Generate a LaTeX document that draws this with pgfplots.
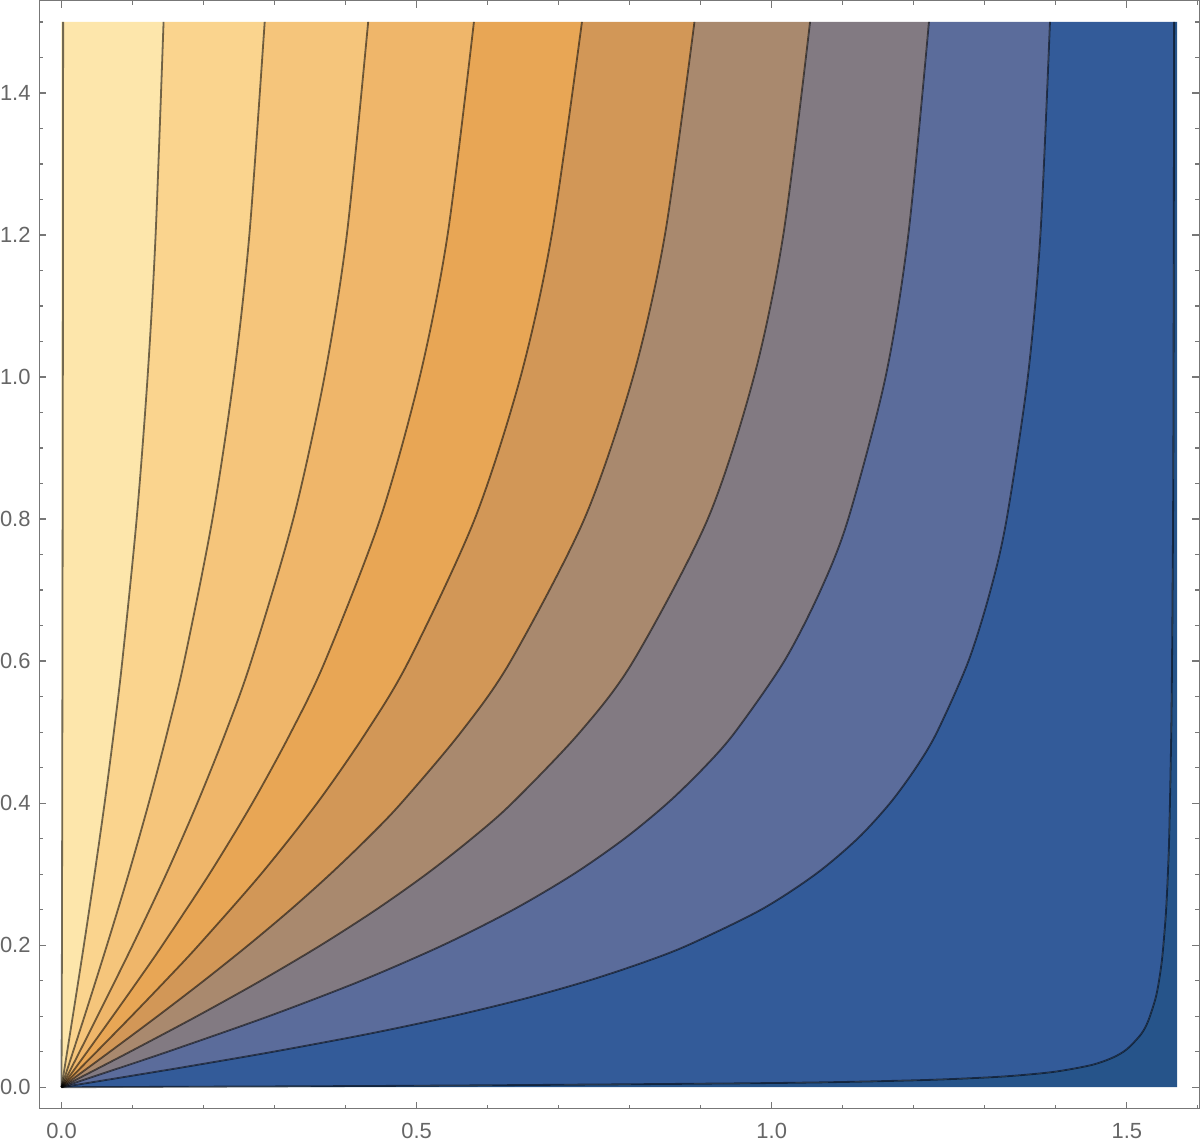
\documentclass[border=0pt]{standalone}
\usepackage{pgfplots}
\pgfplotsset{compat=1.18}
\usepgfplotslibrary{fillbetween}
\usepackage{fontspec}
\setmainfont{Liberation Sans}
\definecolor{c0}{HTML}{FEEDB9}
\definecolor{c1}{HTML}{FDE6AB}
\definecolor{c2}{HTML}{FAD48E}
\definecolor{c3}{HTML}{F5C57B}
\definecolor{c4}{HTML}{EFB66A}
\definecolor{c5}{HTML}{E8A655}
\definecolor{c6}{HTML}{D29757}
\definecolor{c7}{HTML}{A9896E}
\definecolor{c8}{HTML}{827A82}
\definecolor{c9}{HTML}{5B6C9B}
\definecolor{c10}{HTML}{335B99}
\definecolor{c11}{HTML}{26548A}
\definecolor{framegray}{HTML}{777777}
\definecolor{labelgray}{HTML}{666666}
\begin{document}
\begin{tikzpicture}
\begin{axis}[
  scale only axis, width=386.2pt, height=368.8pt,
  xmin=-0.0314, xmax=1.6022, ymin=-0.03, ymax=1.53,
  xtick={0,0.5,1,1.5},
  minor xtick={0.1,0.2,0.3,0.4,0.6,0.7,0.8,0.9,1.1,1.2,1.3,1.4,1.6},
  ytick={0,0.2,0.4,0.6,0.8,1.0,1.2,1.4},
  minor ytick={0.05,0.1,0.15,0.25,0.3,0.35,0.45,0.5,0.55,0.65,0.7,0.75,0.85,0.9,0.95,1.05,1.1,1.15,1.25,1.3,1.35,1.45,1.5},
  xtick pos=both, ytick pos=both, tick align=inside,
  major tick length=2.33pt, minor tick length=1.33pt,
  tick style={framegray, line width=0.4pt},
  axis line style={framegray, line width=0.4pt},
  /pgf/number format/.cd, fixed, fixed zerofill, precision=1, assume math mode=true,
  /pgfplots/.cd,
  ticklabel style={font=\fontsize{7.3}{8}\selectfont, text=labelgray},
  yticklabel style={inner xsep=0pt, xshift=-2.7pt},
  xticklabel style={inner ysep=0pt, yshift=-4.6pt, text depth=1.6pt},
  every axis plot/.append style={line join=round},
  cline/.style={black, opacity=0.55, line width=0.6pt, smooth},
]
% edges
\addplot[draw=none, name path=E0] coordinates {(0,0) (0,1.5)};
\addplot[draw=none, name path=E1] coordinates {(0,0) (1.5708,0) (1.5708,1.5)};
% contour lines (paths named for filling)
\addplot[draw=none, smooth, name path=L1] coordinates {(0,0) (0.0006,0.2) (0.0012,0.5) (0.0019,1.0) (0.0023,1.5)};
\addplot[draw=none, smooth, name path=L2] coordinates {(0,0) (0.0159,0.1) (0.0315,0.2) (0.0465,0.3) (0.0607,0.4) (0.0737,0.5) (0.0856,0.6) (0.1058,0.8) (0.1212,1.0) (0.1325,1.2) (0.1437,1.5)};
\addplot[draw=none, smooth, name path=L3] coordinates {(0,0) (0.0324,0.1) (0.0640,0.2) (0.0944,0.3) (0.1228,0.4) (0.1490,0.5) (0.1728,0.6) (0.2125,0.8) (0.2426,1.0) (0.2645,1.2) (0.2861,1.5)};
\addplot[draw=none, smooth, name path=L4] coordinates {(0,0) (0.0255,0.05) (0.0507,0.1) (0.1002,0.2) (0.1474,0.3) (0.1912,0.4) (0.2313,0.5) (0.2671,0.6) (0.3263,0.8) (0.3702,1.0) (0.4017,1.2) (0.4318,1.5)};
\addplot[draw=none, smooth, name path=L5] coordinates {(0,0) (0.0145,0.02) (0.0362,0.05) (0.0721,0.1) (0.1075,0.15) (0.1421,0.2) (0.2081,0.3) (0.2687,0.4) (0.3232,0.5) (0.3712,0.6) (0.4486,0.8) (0.5044,1.0) (0.5436,1.2) (0.5807,1.5)};
\addplot[draw=none, smooth, name path=L6] coordinates {(0,0) (0.0198,0.02) (0.0494,0.05) (0.0984,0.1) (0.1464,0.15) (0.1931,0.2) (0.2808,0.3) (0.3599,0.4) (0.4292,0.5) (0.4889,0.6) (0.5818,0.8) (0.6463,1.0) (0.6902,1.2) (0.7328,1.5)};
\addplot[draw=none, smooth, name path=L7] coordinates {(0,0) (0.0273,0.02) (0.0681,0.05) (0.1352,0.1) (0.2004,0.15) (0.2630,0.2) (0.3225,0.25) (0.3783,0.3) (0.4303,0.35) (0.4783,0.4) (0.5626,0.5) (0.6324,0.6) (0.7361,0.8) (0.8046,1.0) (0.8496,1.2) (0.8912,1.5)};
\addplot[draw=none, smooth, name path=L8] coordinates {(0,0) (0.0387,0.02) (0.0965,0.05) (0.1907,0.1) (0.2806,0.15) (0.3651,0.2) (0.4429,0.25) (0.5137,0.3) (0.5774,0.35) (0.6344,0.4) (0.7300,0.5) (0.8051,0.6) (0.9099,0.8) (0.9750,1.0) (1.0163,1.2) (1.0540,1.5)};
\addplot[draw=none, smooth, name path=L9] coordinates {(0,0) (0.0302,0.01) (0.0602,0.02) (0.1496,0.05) (0.2919,0.1) (0.4221,0.15) (0.5370,0.2) (0.6362,0.25) (0.7209,0.3) (0.7926,0.35) (0.8533,0.4) (0.9047,0.45) (0.9484,0.5) (1.0177,0.6) (1.0689,0.7) (1.1077,0.8) (1.1603,1.0) (1.1923,1.2) (1.2214,1.5)};
\addplot[draw=none, smooth, name path=L10] coordinates {(0,0) (0.0308,0.005) (0.0615,0.01) (0.1224,0.02) (0.1825,0.03) (0.2983,0.05) (0.4317,0.075) (0.5502,0.1) (0.6532,0.125) (0.7417,0.15) (0.8173,0.175) (0.8820,0.2) (0.9850,0.25) (1.0618,0.3) (1.1208,0.35) (1.1666,0.4) (1.2031,0.45) (1.2327,0.5) (1.2770,0.6) (1.3081,0.7) (1.3308,0.8) (1.3606,1.0) (1.3783,1.2) (1.3918,1.5)};
\addplot[draw=none, smooth, name path=L11] coordinates {(0,0) (0.5,0.0021) (1.0,0.0059) (1.2,0.0097) (1.3,0.0136) (1.35,0.0169) (1.4,0.0220) (1.45,0.0312) (1.48,0.0416) (1.5,0.0535) (1.52,0.0746) (1.53,0.0931) (1.54,0.1236) (1.545,0.1479) (1.55,0.1841) (1.555,0.2445) (1.558,0.3051) (1.56,0.3664) (1.563,0.5306) (1.565,0.7813) (1.5658,1.0) (1.5666,1.5)};
% filled bands
\addplot[fill=c0, draw=none] fill between[of=E0 and L1];
\addplot[fill=c1, draw=none] fill between[of=L1 and L2];
\addplot[fill=c2, draw=none] fill between[of=L2 and L3];
\addplot[fill=c3, draw=none] fill between[of=L3 and L4];
\addplot[fill=c4, draw=none] fill between[of=L4 and L5];
\addplot[fill=c5, draw=none] fill between[of=L5 and L6];
\addplot[fill=c6, draw=none] fill between[of=L6 and L7];
\addplot[fill=c7, draw=none] fill between[of=L7 and L8];
\addplot[fill=c8, draw=none] fill between[of=L8 and L9];
\addplot[fill=c9, draw=none] fill between[of=L9 and L10];
\addplot[fill=c10, draw=none] fill between[of=L10 and L11];
\addplot[fill=c11, draw=none] fill between[of=L11 and E1];
% visible contour lines
\addplot[cline] coordinates {(0,0) (0.0006,0.2) (0.0012,0.5) (0.0019,1.0) (0.0023,1.5)};
\addplot[cline] coordinates {(0,0) (0.0159,0.1) (0.0315,0.2) (0.0465,0.3) (0.0607,0.4) (0.0737,0.5) (0.0856,0.6) (0.1058,0.8) (0.1212,1.0) (0.1325,1.2) (0.1437,1.5)};
\addplot[cline] coordinates {(0,0) (0.0324,0.1) (0.0640,0.2) (0.0944,0.3) (0.1228,0.4) (0.1490,0.5) (0.1728,0.6) (0.2125,0.8) (0.2426,1.0) (0.2645,1.2) (0.2861,1.5)};
\addplot[cline] coordinates {(0,0) (0.0255,0.05) (0.0507,0.1) (0.1002,0.2) (0.1474,0.3) (0.1912,0.4) (0.2313,0.5) (0.2671,0.6) (0.3263,0.8) (0.3702,1.0) (0.4017,1.2) (0.4318,1.5)};
\addplot[cline] coordinates {(0,0) (0.0145,0.02) (0.0362,0.05) (0.0721,0.1) (0.1075,0.15) (0.1421,0.2) (0.2081,0.3) (0.2687,0.4) (0.3232,0.5) (0.3712,0.6) (0.4486,0.8) (0.5044,1.0) (0.5436,1.2) (0.5807,1.5)};
\addplot[cline] coordinates {(0,0) (0.0198,0.02) (0.0494,0.05) (0.0984,0.1) (0.1464,0.15) (0.1931,0.2) (0.2808,0.3) (0.3599,0.4) (0.4292,0.5) (0.4889,0.6) (0.5818,0.8) (0.6463,1.0) (0.6902,1.2) (0.7328,1.5)};
\addplot[cline] coordinates {(0,0) (0.0273,0.02) (0.0681,0.05) (0.1352,0.1) (0.2004,0.15) (0.2630,0.2) (0.3225,0.25) (0.3783,0.3) (0.4303,0.35) (0.4783,0.4) (0.5626,0.5) (0.6324,0.6) (0.7361,0.8) (0.8046,1.0) (0.8496,1.2) (0.8912,1.5)};
\addplot[cline] coordinates {(0,0) (0.0387,0.02) (0.0965,0.05) (0.1907,0.1) (0.2806,0.15) (0.3651,0.2) (0.4429,0.25) (0.5137,0.3) (0.5774,0.35) (0.6344,0.4) (0.7300,0.5) (0.8051,0.6) (0.9099,0.8) (0.9750,1.0) (1.0163,1.2) (1.0540,1.5)};
\addplot[cline] coordinates {(0,0) (0.0302,0.01) (0.0602,0.02) (0.1496,0.05) (0.2919,0.1) (0.4221,0.15) (0.5370,0.2) (0.6362,0.25) (0.7209,0.3) (0.7926,0.35) (0.8533,0.4) (0.9047,0.45) (0.9484,0.5) (1.0177,0.6) (1.0689,0.7) (1.1077,0.8) (1.1603,1.0) (1.1923,1.2) (1.2214,1.5)};
\addplot[cline] coordinates {(0,0) (0.0308,0.005) (0.0615,0.01) (0.1224,0.02) (0.1825,0.03) (0.2983,0.05) (0.4317,0.075) (0.5502,0.1) (0.6532,0.125) (0.7417,0.15) (0.8173,0.175) (0.8820,0.2) (0.9850,0.25) (1.0618,0.3) (1.1208,0.35) (1.1666,0.4) (1.2031,0.45) (1.2327,0.5) (1.2770,0.6) (1.3081,0.7) (1.3308,0.8) (1.3606,1.0) (1.3783,1.2) (1.3918,1.5)};
\addplot[cline] coordinates {(0,0) (0.5,0.0021) (1.0,0.0059) (1.2,0.0097) (1.3,0.0136) (1.35,0.0169) (1.4,0.0220) (1.45,0.0312) (1.48,0.0416) (1.5,0.0535) (1.52,0.0746) (1.53,0.0931) (1.54,0.1236) (1.545,0.1479) (1.55,0.1841) (1.555,0.2445) (1.558,0.3051) (1.56,0.3664) (1.563,0.5306) (1.565,0.7813) (1.5658,1.0) (1.5666,1.5)};
\end{axis}
\end{tikzpicture}
\end{document}
